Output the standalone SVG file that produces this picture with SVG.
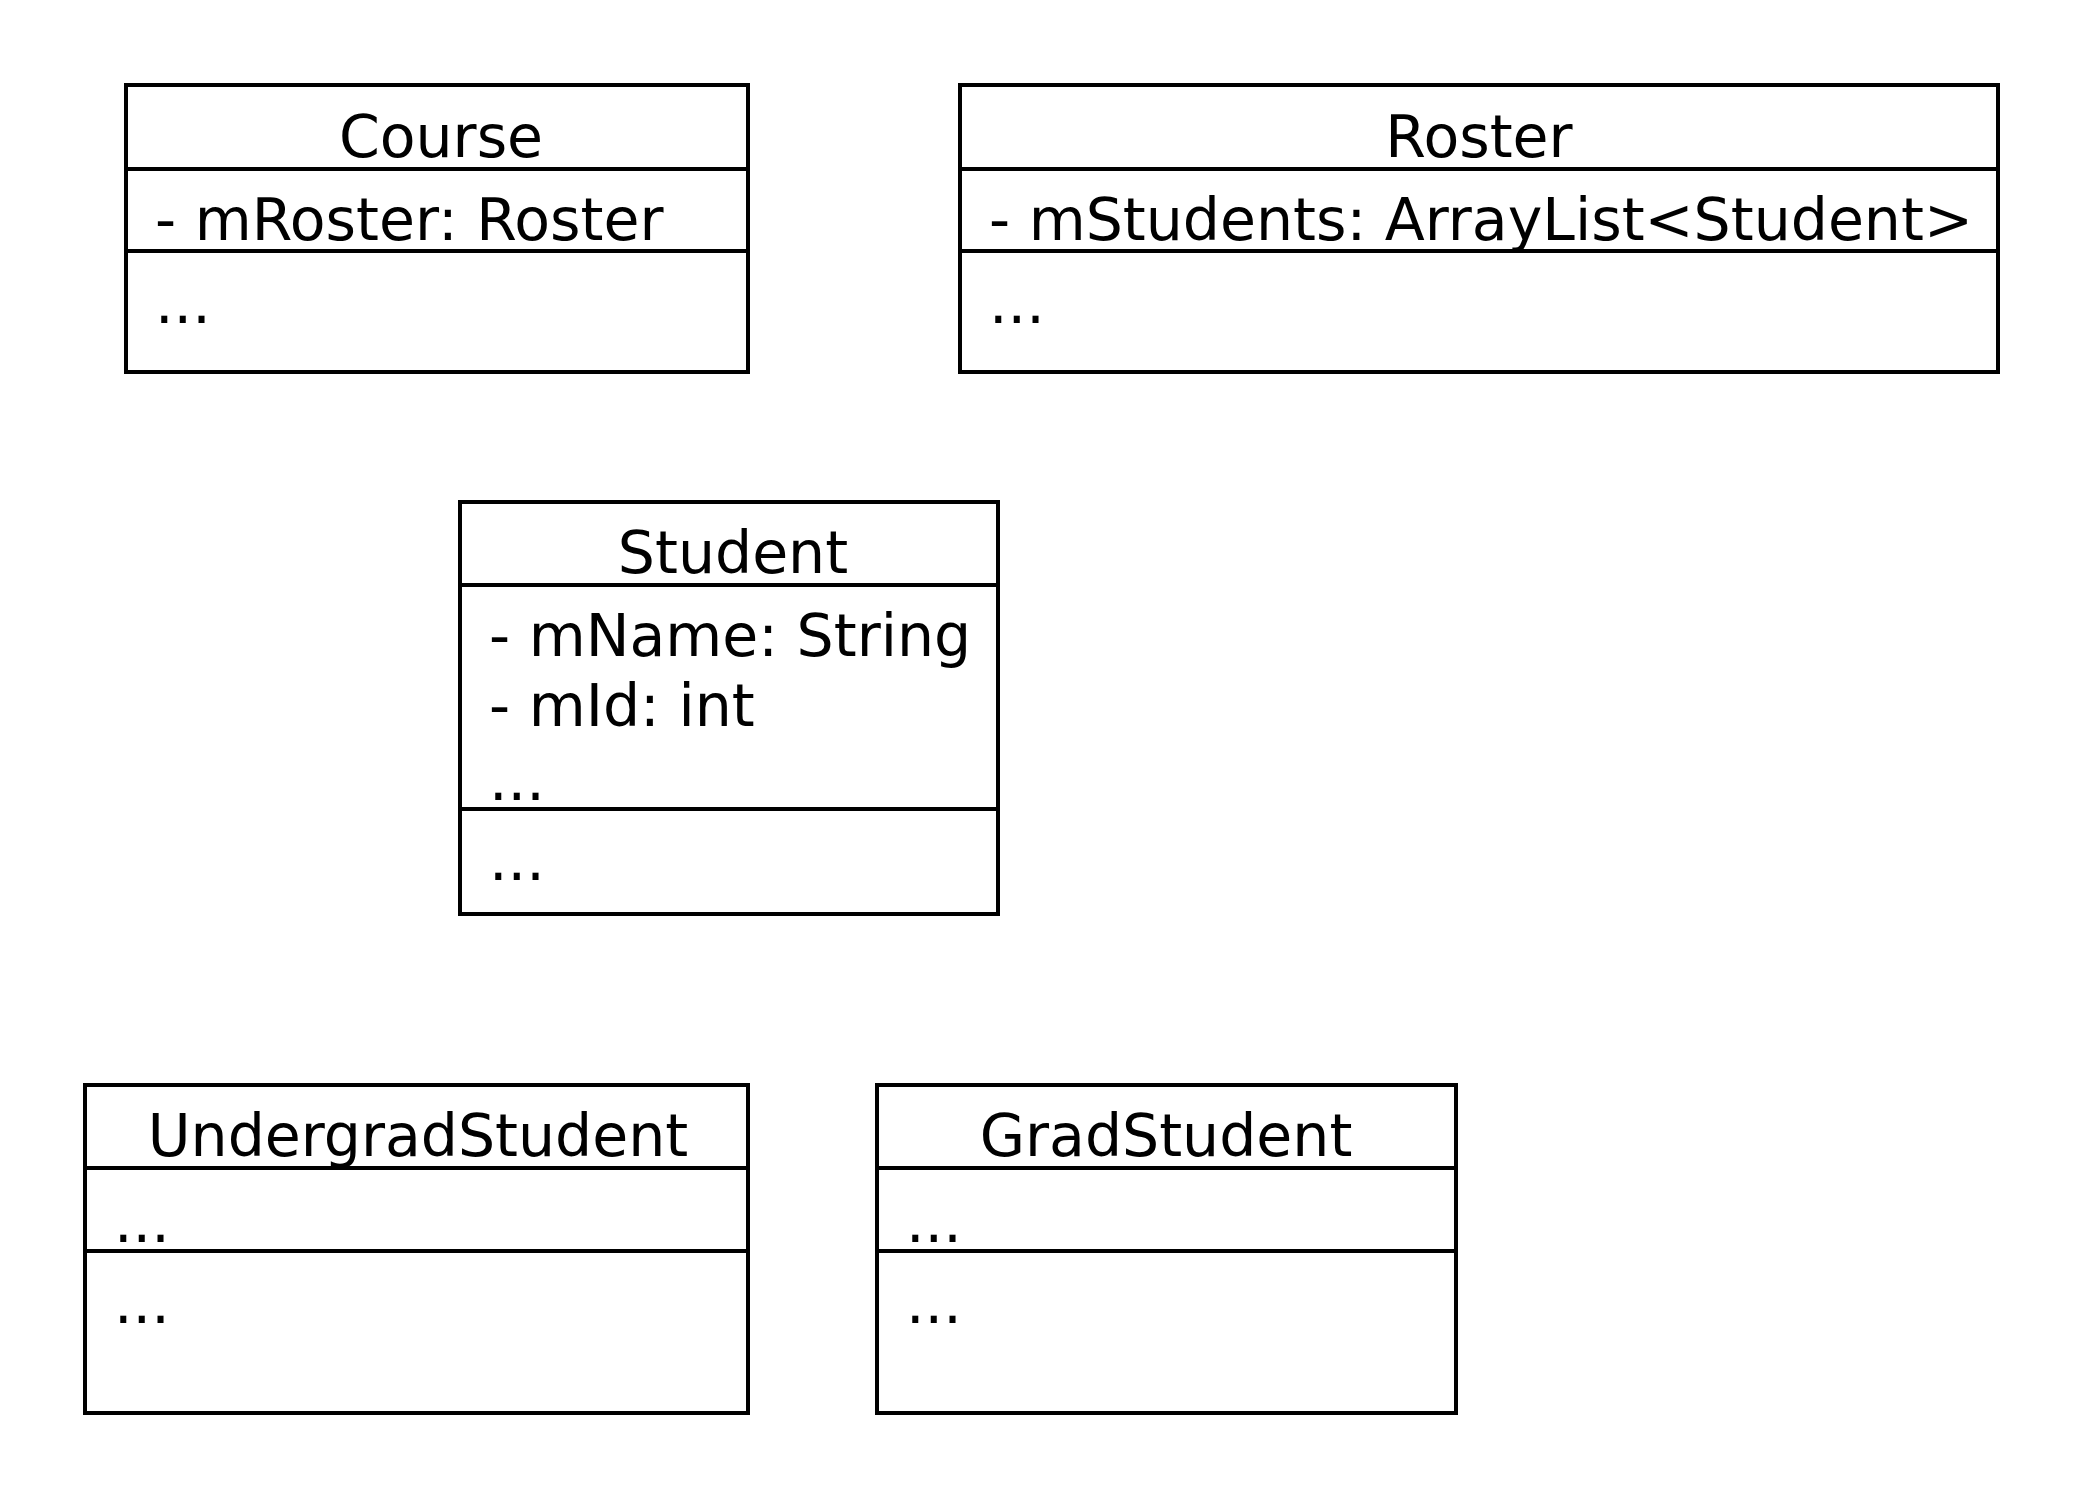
<svg xmlns="http://www.w3.org/2000/svg" width="2083" height="1500" viewBox="0 0 2083 1500">
<style>
rect, line { fill: none; stroke: #000; stroke-width: 4; }
text { font-family: "DejaVu Sans", sans-serif; font-size: 58.5px; fill: #000; }
.t { text-anchor: middle; }
</style>
<rect x="0" y="0" width="2083" height="1500" fill="#fff" stroke="none" style="fill:#fff;stroke:none"/>
<g id="Course">
<rect x="126" y="85" width="622" height="287"/>
<line x1="126" y1="169" x2="748" y2="169"/>
<line x1="126" y1="251" x2="748" y2="251"/>
<text class="t" x="441" y="157">Course</text>
<text x="155" y="240">- mRoster: Roster</text>
<text x="155" y="323">...</text>
</g>
<g id="Roster">
<rect x="960" y="85" width="1038" height="287"/>
<line x1="960" y1="169" x2="1998" y2="169"/>
<line x1="960" y1="251" x2="1998" y2="251"/>
<text class="t" x="1479" y="157">Roster</text>
<text x="989" y="240">- mStudents: ArrayList&lt;Student&gt;</text>
<text x="989" y="323">...</text>
</g>
<g id="Student">
<rect x="460" y="502" width="538" height="412"/>
<line x1="460" y1="585" x2="998" y2="585"/>
<line x1="460" y1="809" x2="998" y2="809"/>
<text class="t" x="733" y="573">Student</text>
<text x="489" y="656">- mName: String</text>
<text x="489" y="726">- mId: int</text>
<text x="489" y="800">...</text>
<text x="489" y="880">...</text>
</g>
<g id="UndergradStudent">
<rect x="85" y="1085" width="663" height="328"/>
<line x1="85" y1="1168" x2="748" y2="1168"/>
<line x1="85" y1="1251" x2="748" y2="1251"/>
<text class="t" x="418" y="1156">UndergradStudent</text>
<text x="114" y="1242">...</text>
<text x="114" y="1323">...</text>
</g>
<g id="GradStudent">
<rect x="877" y="1085" width="579" height="328"/>
<line x1="877" y1="1168" x2="1456" y2="1168"/>
<line x1="877" y1="1251" x2="1456" y2="1251"/>
<text class="t" x="1166" y="1156">GradStudent</text>
<text x="906" y="1242">...</text>
<text x="906" y="1323">...</text>
</g>
<g id="connectors"></g>
</svg>
